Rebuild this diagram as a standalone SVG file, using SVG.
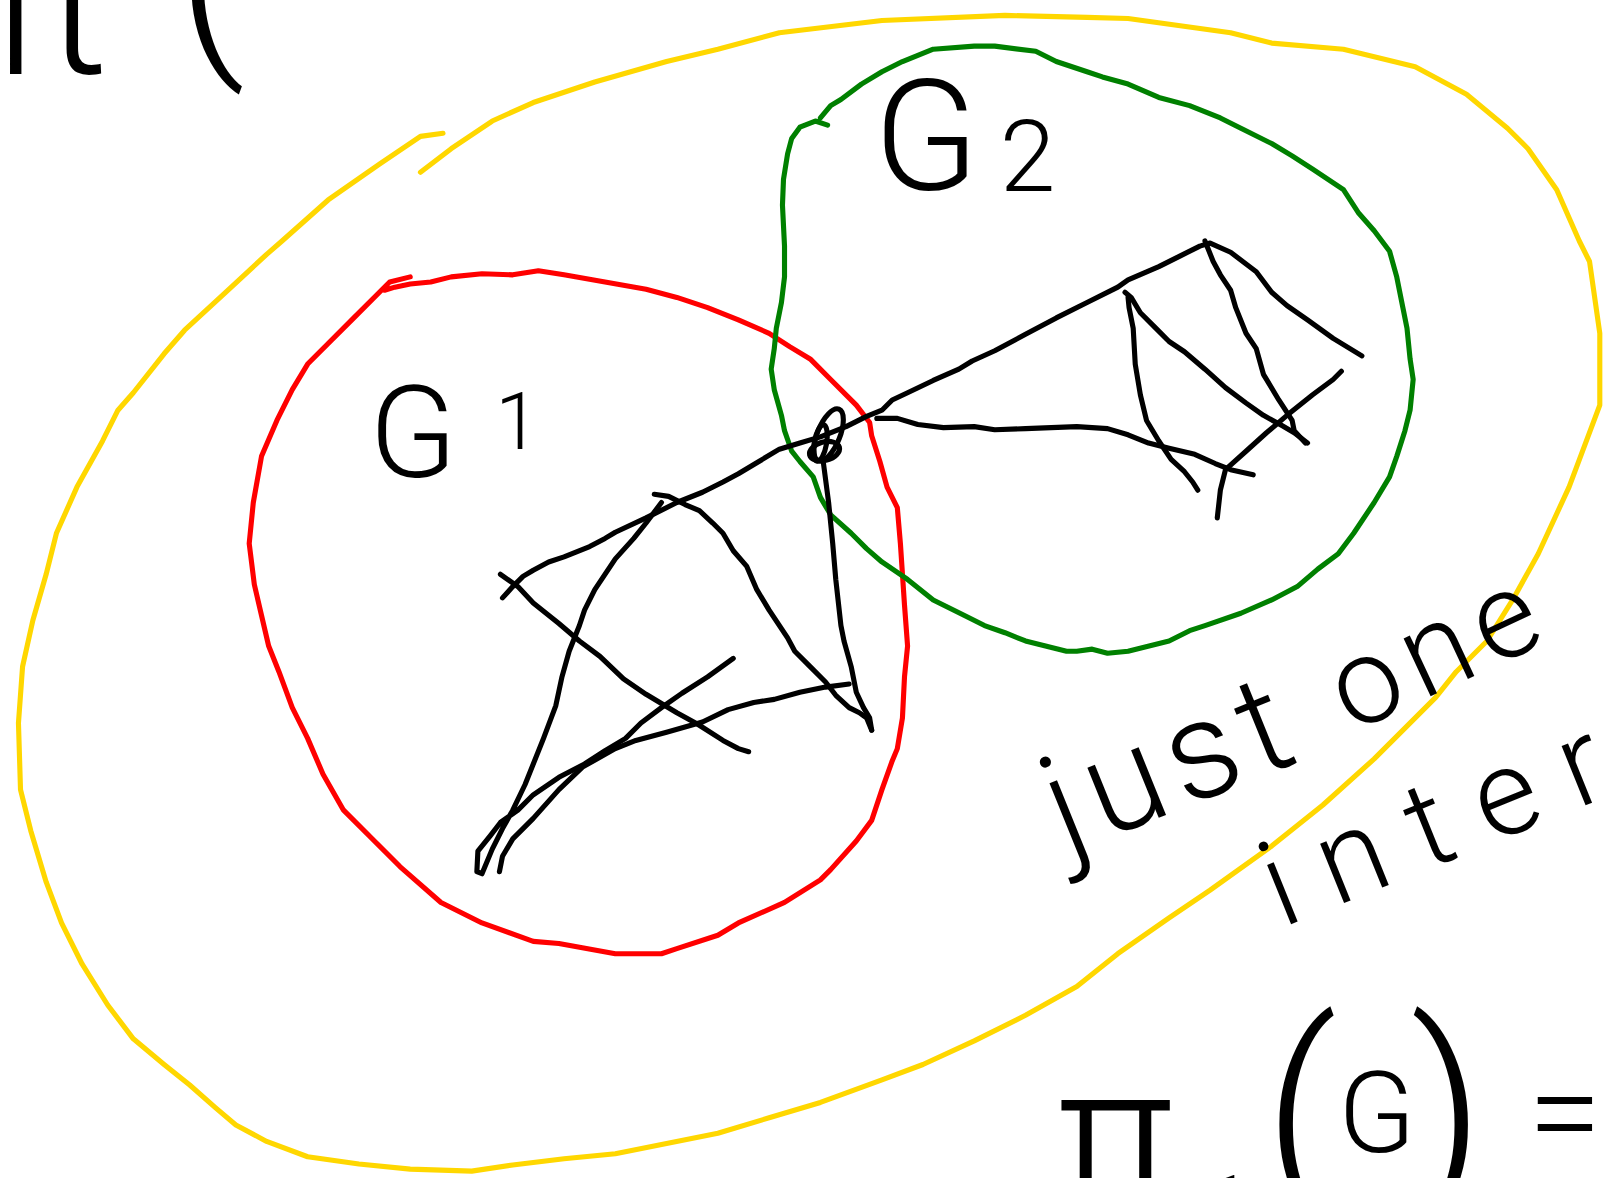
<svg xmlns="http://www.w3.org/2000/svg" width="1608" height="1178" viewBox="0 0 1608 1178">
<style>
.s{fill:none;stroke-linecap:round;stroke-linejoin:round;stroke-width:5}
.y{stroke:#FFD700}
.r{stroke:#FF0000}
.g{stroke:#008000}
.k{stroke:#000}
.t{font-family:Roboto,"Open Sans","Liberation Sans",sans-serif;font-weight:300;fill:#000}
</style>
<rect width="1608" height="1178" fill="#fff"/>
<g transform="scale(1.02551)">
<g id="outer-region">
<path class="s y" d="M432,130 L410,133 L370,160 L320,195 L275,235 L260,248 L220,285 L180,322 L160,345 L130,383 L115,400 L100,430 L75,475 L55,520 L45,560 L32,605 L22,650 L18,705 L20,770 L30,810 L45,860 L60,900 L80,940 L105,980 L130,1013 L160,1038 L185,1058 L210,1080 L230,1097 L260,1113 L300,1128 L350,1135 L400,1140 L460,1142 L500,1136 L550,1130 L600,1125 L650,1115 L700,1105 L750,1090 L800,1075 L860,1053 L900,1038 L950,1015 L1000,990 L1050,962 L1090,930 L1140,895 L1180,868 L1240,825 L1290,785 L1340,740 L1400,680 L1420,655 L1450,625 L1475,585 L1500,540 L1530,475 L1560,395 L1560,325 L1550,255 L1540,235 L1518,185 L1490,145 L1470,125 L1430,92 L1380,65 L1310,48 L1240,42 L1200,32 L1100,18 L1060,17 L980,15 L860,20 L760,32 L700,48 L650,60 L580,80 L520,100 L480,118 L440,145 L410,168"/>
</g>
<g id="G1">
<path class="s r" d="M400,270 L380,275 L370,285 L345,310 L320,335 L300,355 L285,380 L270,410 L255,445 L247,490 L243,530 L248,570 L255,600 L262,630 L272,655 L285,690 L300,720 L315,755 L335,790 L360,815 L390,845 L430,880 L470,900 L520,918 L545,920 L600,930 L645,930 L660,925 L700,912 L720,900 L765,880 L800,858 L810,848 L835,820 L850,800 L860,770 L870,742 L875,730 L880,700 L882,660 L885,630 L882,590 L881,575 L878,530 L875,495 L865,475 L858,450 L850,425 L848,412 L835,395 L810,370 L790,350 L770,338 L750,325 L720,312 L690,300 L660,290 L630,282 L590,275 L550,268 L525,264 L500,268 L470,267 L440,270 L420,275 L400,277 L385,280 L375,283"/>
<text class="t" x="360" y="465" font-size="125">G<tspan font-size="78" x="483" y="438">1</tspan></text>
</g>
<g id="G2">
<path class="s g" d="M807,122 L795,118 L780,124 L772,135 L768,150 L764,175 L763,200 L765,240 L765,270 L762,295 L757,320 L755,340 L752,360 L755,380 L762,405 L765,420 L772,440 L780,450 L793,465 L800,485 L810,502 L830,520 L845,535 L860,548 L885,565 L910,585 L940,600 L960,610 L980,617 L1000,625 L1040,635 L1050,635 L1065,633 L1080,637 L1100,635 L1140,625 L1160,615 L1175,610 L1210,598 L1240,585 L1265,572 L1285,555 L1305,540 L1320,520 L1340,490 L1355,465 L1362,445 L1370,420 L1375,400 L1378,370 L1375,350 L1372,320 L1368,300 L1362,270 L1355,245 L1340,225 L1325,208 L1310,185 L1280,165 L1260,152 L1240,140 L1210,125 L1190,115 L1160,103 L1130,95 L1100,82 L1075,75 L1060,70 L1030,60 L1010,50 L970,45 L950,45 L910,48 L880,60 L860,70 L840,82 L820,97 L810,103 L800,115"/>
<text class="t" x="852" y="185" font-size="150">G<tspan font-size="98" x="975" y="186">2</tspan></text>
</g>
<g id="connectors">
<path class="s k" d="M490,583 L500,572 L510,562 L520,556 L535,548 L550,543 L575,533 L590,525 L600,519 L630,505 L660,490 L685,480 L705,470 L720,462 L740,450 L760,438 L780,432 L800,426 L825,416 L845,406 L860,400 L870,390 L885,383 L910,371 L935,360 L948,352 L970,342 L1000,326 L1030,310 L1060,295 L1090,280 L1100,273 L1130,260 L1150,250 L1170,240 L1180,237 L1200,246 L1225,265 L1240,285 L1255,298 L1275,312 L1300,330 L1328,347"/>
<path class="s k" d="M488,560 L505,572 L520,588 L545,608 L565,625 L585,640 L608,662 L630,677 L660,695 L680,706 L705,722 L720,730 L730,733"/>
<path class="s k" d="M638,482 L652,484 L668,492 L682,498 L695,510 L705,520 L715,537 L728,552 L738,575 L750,595 L768,622 L775,635 L790,650 L805,665 L815,678 L828,690 L838,695 L845,700 L850,712"/>
<path class="s k" d="M645,490 L630,510 L618,525 L600,545 L580,575 L570,595 L565,610 L555,635 L548,660 L542,688 L530,720 L512,765 L500,790 L490,808 L480,828 L470,852 L465,850 L466,830 L478,815 L488,802 L505,790 L520,775 L545,758 L570,745 L590,732 L610,720 L625,705 L645,690 L665,676 L690,660 L715,642"/>
<path class="s k" d="M487,850 L490,835 L500,818 L520,798 L545,770 L568,748 L600,730 L620,722 L650,714 L685,704 L710,692 L735,685 L755,682 L780,675 L805,670 L828,667"/>
<path class="s k" d="M803,452 L808,490 L812,530 L815,565 L820,610 L823,625 L830,650 L835,675 L842,690 L848,700 L850,712"/>
<path class="s k" d="M855,408 L875,408 L895,414 L920,417 L950,416 L970,419 L1000,418 L1050,416 L1080,418 L1100,424 L1120,432 L1140,437 L1165,443 L1185,452 L1200,458 L1222,463"/>
<path class="s k" d="M1175,235 L1183,255 L1190,268 L1200,283 L1205,300 L1215,325 L1225,340 L1232,365 L1247,390 L1260,410 L1262,420 L1273,432"/>
<path class="s k" d="M1097,285 L1103,290 L1112,305 L1127,320 L1140,333 L1155,343 L1175,360 L1195,378 L1215,393 L1232,405 L1250,415 L1262,422 L1275,432"/>
<path class="s k" d="M1100,290 L1101,300 L1105,320 L1107,355 L1112,385 L1118,410 L1130,430 L1142,448 L1155,460 L1163,470 L1168,478"/>
<path class="s k" d="M1308,362 L1300,370 L1280,385 L1255,405 L1235,422 L1215,440 L1195,458 L1190,478 L1187,505"/>
<ellipse class="s k" cx="808" cy="424" rx="11" ry="27" transform="rotate(22 808 424)"/>
<ellipse class="s k" cx="804" cy="440" rx="15" ry="9" transform="rotate(-15 804 440)"/>
<ellipse class="s k" cx="800" cy="432" rx="6" ry="18" transform="rotate(10 800 432)"/>
</g>
<g id="annotations">
<text class="t" x="1040" y="834" font-size="135" letter-spacing="10" transform="rotate(-22 1040 834)">just</text>
<text class="t" x="1318" y="715" font-size="118" letter-spacing="10" transform="rotate(-25 1318 715)">one</text>
<text class="t" x="1250" y="905" font-size="118" letter-spacing="30" transform="rotate(-22 1250 905)">inter</text>
<text class="t" x="1030" y="1178"><tspan font-size="200">π</tspan><tspan font-size="70" x="1180" y="1196">1</tspan><tspan font-size="225" x="1232" y="1160">(</tspan><tspan font-size="110" x="1305" y="1123">G</tspan><tspan font-size="225" x="1375" y="1160">)</tspan><tspan font-size="130" x="1490" y="1129">=</tspan></text>
<text class="t" x="-12" y="72" font-size="190">π<tspan font-size="210" x="172" y="44">(</tspan></text>
</g>
</g>
</svg>
